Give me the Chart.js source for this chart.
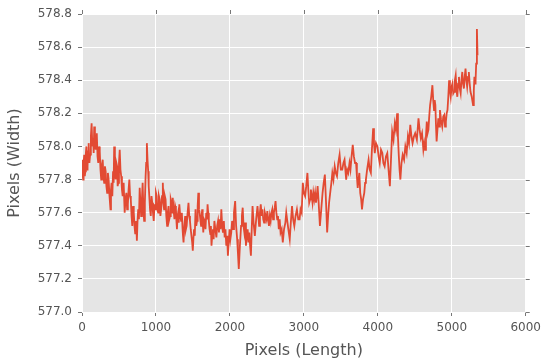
<!DOCTYPE html>
<html>
<head>
<meta charset="utf-8">
<script src="https://cdn.jsdelivr.net/npm/chart.js@4/dist/chart.umd.min.js"></script>
<style>
  html, body { margin: 0; padding: 0; background: #ffffff; }
  #wrap { width: 546px; height: 360px; position: relative; }
</style>
</head>
<body>
<div id="wrap"><canvas id="c" width="546" height="360"></canvas></div>
<script>
// Position along the length (pixels)
const lengthPx = [
  0,8,15,22,30,38,45,52,60,68,75,82,90,100,110,120,130,140,150,158,165,175,185,192,200,210,220,230,240,250,260,270,280,290,300,310,320,330,340,350,360,372,385,392,400,410,420,428,435,445,455,465,475,482,490,500,510,520,530,540,550,563,577,588,600,610,620,630,640,650,660,670,680,690,700,710,720,732,742,750,760,770,780,790,800,810,820,830,840,850,860,868,877,886,895,902,910,920,930,940,950,960,970,980,990,1000,
  1010,1020,1030,1040,1050,1060,1070,1082,1093,1100,1110,1120,1130,1140,1151,1160,1170,1180,1190,1200,1210,1218,1227,1238,1250,1260,1270,1277,1284,1292,1300,1308,1316,1328,1340,1350,1360,1366,1373,1384,1395,1405,1415,1428,1440,1450,1460,1470,1480,1490,1498,1506,1515,1525,1535,1545,1555,1564,1573,1582,1590,1600,1610,1618,1625,1632,1640,1650,1660,1670,1680,1690,1698,1706,1715,1725,1735,1743,1751,1760,1770,1780,1790,1803,1817,1828,
  1840,1852,1862,1873,1884,1895,1906,1918,1929,1940,1951,1962,1973,1984,1995,2006,2018,2030,2042,2055,2071,2084,2098,2108,2120,2135,2151,2162,2173,2184,2195,2206,2217,2228,2240,2251,2262,2273,2284,2295,2306,2320,2337,2355,2373,2384,2395,2406,2417,2430,2440,2451,2462,2473,2484,2495,2506,2517,2528,2540,2551,2562,2573,2584,2595,2606,2617,2628,2640,2650,2661,2673,2685,2700,2715,2732,2750,2762,
  2773,2790,2809,2825,2840,2855,2871,2888,2906,2924,2942,2955,2970,2986,3000,3017,3032,3048,3060,3072,3084,3095,3106,3117,3128,3140,3152,3164,3175,3186,3200,3217,3235,3253,3268,3284,3300,3315,3328,3341,3356,3372,3385,3400,3417,3432,3448,3465,3483,3500,3519,3535,3550,3561,3572,3585,3600,3617,3630,3645,3661,3676,3692,
  3706,3717,3728,3739,3750,3762,3775,3786,3800,3817,3828,3839,3855,3875,3890,3906,3920,3937,3948,3959,3975,3995,4010,4026,4043,4061,4075,4092,4110,4128,4145,4163,4178,4194,4212,4230,4245,4261,4272,4283,4294,4305,4320,4336,4355,4372,4390,4407,4422,4439,4455,4470,4488,4505,4528,4550,4565,4581,4598,4616,4628,
  4640,4651,4662,4673,4684,4695,4707,4722,4738,4749,4760,4769,4778,4787,4795,4806,4818,4829,4840,4855,4871,4885,4898,4909,4920,4931,4942,4953,4964,4975,4986,4997,5009,5020,5031,5042,5053,5064,5075,5086,5097,5108,5120,5131,5142,5153,5164,5175,5186,5197,5208,5220,5231,5242,5253,5270,5288,5298,5306,5315,5322,5330,5340,5348
];
// Measured width (pixels)
const widthPx = [
  577.92,577.84,577.80,577.90,577.95,577.82,577.85,577.96,578.00,577.86,577.88,577.97,578.02,577.90,577.95,578.06,578.14,578.00,578.05,577.96,578.12,578.04,577.98,578.06,578.08,577.94,577.90,578.00,577.97,577.86,577.80,577.89,577.92,577.82,577.78,577.88,577.85,577.76,577.72,577.84,577.80,577.70,577.62,577.74,577.78,577.70,577.85,577.78,578.00,577.86,577.80,577.90,577.88,577.76,577.78,577.90,577.98,577.86,577.82,577.74,577.70,577.78,577.60,577.68,577.72,577.62,577.65,577.74,577.80,577.70,577.68,577.58,577.52,577.64,577.60,577.52,577.47,577.55,577.43,577.54,577.62,577.56,577.75,577.66,577.58,577.68,577.78,577.62,577.55,577.66,577.82,577.90,578.02,577.92,577.85,577.76,577.70,577.62,577.58,577.70,577.66,577.60,577.55,577.65,577.62,577.72,
  577.70,577.62,577.60,577.70,577.68,577.58,577.62,577.70,577.78,577.66,577.62,577.70,577.68,577.58,577.52,577.60,577.64,577.56,577.58,577.68,577.66,577.60,577.69,577.62,577.56,577.64,577.62,577.55,577.50,577.58,577.60,577.54,577.65,577.58,577.55,577.60,577.50,577.46,577.42,577.52,577.58,577.50,577.52,577.60,577.66,577.58,577.55,577.50,577.46,577.42,577.37,577.44,577.50,577.46,577.62,577.52,577.55,577.64,577.72,577.62,577.60,577.56,577.52,577.58,577.62,577.55,577.48,577.56,577.55,577.50,577.60,577.56,577.65,577.60,577.55,577.50,577.47,577.52,577.40,577.46,577.50,577.44,577.55,577.50,577.45,577.52,
  577.55,577.48,577.56,577.50,577.62,577.52,577.48,577.55,577.45,577.50,577.40,577.46,577.34,577.42,577.50,577.44,577.48,577.55,577.50,577.60,577.67,577.52,577.44,577.36,577.26,577.40,577.52,577.58,577.63,577.52,577.48,577.54,577.40,577.46,577.50,577.42,577.48,577.40,577.34,577.50,577.64,577.54,577.46,577.56,577.64,577.58,577.52,577.60,577.65,577.58,577.62,577.56,577.54,577.60,577.58,577.56,577.61,577.56,577.52,577.58,577.55,577.60,577.62,577.56,577.60,577.63,577.67,577.60,577.56,577.58,577.50,577.56,577.48,577.50,577.42,577.50,577.54,577.60,
  577.56,577.50,577.44,577.55,577.64,577.56,577.52,577.58,577.62,577.56,577.56,577.62,577.60,577.78,577.72,577.70,577.76,577.84,577.74,577.66,577.68,577.74,577.70,577.66,577.72,577.68,577.72,577.66,577.70,577.76,577.66,577.52,577.62,577.72,577.78,577.83,577.66,577.48,577.58,577.66,577.72,577.78,577.84,577.80,577.88,577.84,577.82,577.90,577.95,577.86,577.86,577.90,577.92,577.86,577.80,577.86,577.84,577.90,577.86,577.94,578.01,577.94,577.90,
  577.90,577.82,577.75,577.80,577.84,577.72,577.68,577.62,577.68,577.72,577.78,577.80,577.86,577.92,577.86,577.84,577.98,578.11,578.02,577.96,578.02,578.00,577.94,577.90,577.98,577.96,577.90,577.88,577.94,577.96,577.86,577.76,577.92,578.09,578.04,578.14,578.10,578.20,578.06,577.95,577.86,577.80,577.90,577.95,577.92,578.00,577.96,578.06,578.02,578.13,578.06,578.02,578.06,578.08,578.04,578.17,578.10,578.05,578.08,577.98,578.02,
  577.98,578.06,578.15,578.08,578.10,578.18,578.25,578.30,578.37,578.28,578.22,578.28,578.25,578.12,578.03,578.10,578.17,578.12,578.22,578.16,578.12,578.18,578.19,578.12,578.15,578.20,578.22,578.30,578.40,578.34,578.30,578.36,578.38,578.32,578.33,578.40,578.43,578.34,578.30,578.38,578.42,578.35,578.32,578.40,578.45,578.38,578.35,578.42,578.47,578.40,578.36,578.42,578.45,578.38,578.33,578.30,578.25,578.34,578.42,578.38,578.40,578.50,578.71,578.55
];
const xTicks = [0, 1000, 2000, 3000, 4000, 5000, 6000];
const yTicks = [577.0, 577.2, 577.4, 577.6, 577.8, 578.0, 578.2, 578.4, 578.6, 578.8];

const nPts = Math.min(lengthPx.length, widthPx.length);
const points = lengthPx.slice(0, nPts).map((x, i) => ({ x: x, y: widthPx[i] }));

const TEXT = '#555555';
const TICKC = '#777777';
const FONT = 'DejaVu Sans';

const bgPlugin = {
  id: 'bg',
  beforeDraw(chart) {
    const { ctx, chartArea: a } = chart;
    ctx.save();
    ctx.fillStyle = '#E5E5E5';
    ctx.fillRect(a.left, a.top, a.right - a.left, a.bottom - a.top);
    ctx.restore();
  },
  afterDraw(chart) {
    // mirrored tick marks on top and right edges
    const { ctx, chartArea: a, scales } = chart;
    ctx.save();
    ctx.strokeStyle = TICKC;
    ctx.lineWidth = 1;
    ctx.beginPath();
    xTicks.forEach(v => {
      const px = Math.round(scales.x.getPixelForValue(v)) + 0.5;
      ctx.moveTo(px, a.top); ctx.lineTo(px, a.top - 4);
    });
    yTicks.forEach(v => {
      const py = Math.round(scales.y.getPixelForValue(v)) + 0.5;
      ctx.moveTo(a.right, py); ctx.lineTo(a.right + 4, py);
    });
    ctx.stroke();
    ctx.restore();
  }
};

new Chart(document.getElementById('c'), {
  type: 'line',
  data: {
    datasets: [{
      data: points,
      borderColor: '#E24A33',
      borderWidth: 1.8,
      pointRadius: 0,
      tension: 0,
      fill: false
    }]
  },
  options: {
    responsive: false,
    animation: false,
    events: [],
    layout: { padding: { top: 14, right: 17, left: 0, bottom: 0 } },
    plugins: { legend: { display: false }, tooltip: { enabled: false } },
    scales: {
      x: {
        type: 'linear',
        min: 0, max: 6000,
        afterBuildTicks: (s) => { s.ticks = xTicks.map(v => ({ value: v })); },
        afterFit: (s) => { s.height = 48; },
        border: { display: false },
        grid: { color: '#ffffff', lineWidth: 1, tickColor: TICKC, tickLength: 4, drawTicks: true },
        ticks: { color: TEXT, font: { family: FONT, size: 12 }, padding: 5, maxRotation: 0,
                 callback: (v) => String(v) },
        title: { display: true, text: 'Pixels (Length)', color: TEXT,
                 font: { family: FONT, size: 16 }, padding: { top: 0, bottom: 0 } }
      },
      y: {
        type: 'linear',
        min: 577.0, max: 578.8,
        afterBuildTicks: (s) => { s.ticks = yTicks.map(v => ({ value: v })); },
        afterFit: (s) => { s.width = 82; },
        border: { display: false },
        grid: { color: '#ffffff', lineWidth: 1, tickColor: TICKC, tickLength: 4, drawTicks: true },
        ticks: { color: TEXT, font: { family: FONT, size: 12 }, padding: 6,
                 callback: (v) => Number(v).toFixed(1) },
        title: { display: true, text: 'Pixels (Width)', color: TEXT,
                 font: { family: FONT, size: 16 }, padding: { top: 5, bottom: 0 } }
      }
    }
  },
  plugins: [bgPlugin]
});
</script>
</body>
</html>
